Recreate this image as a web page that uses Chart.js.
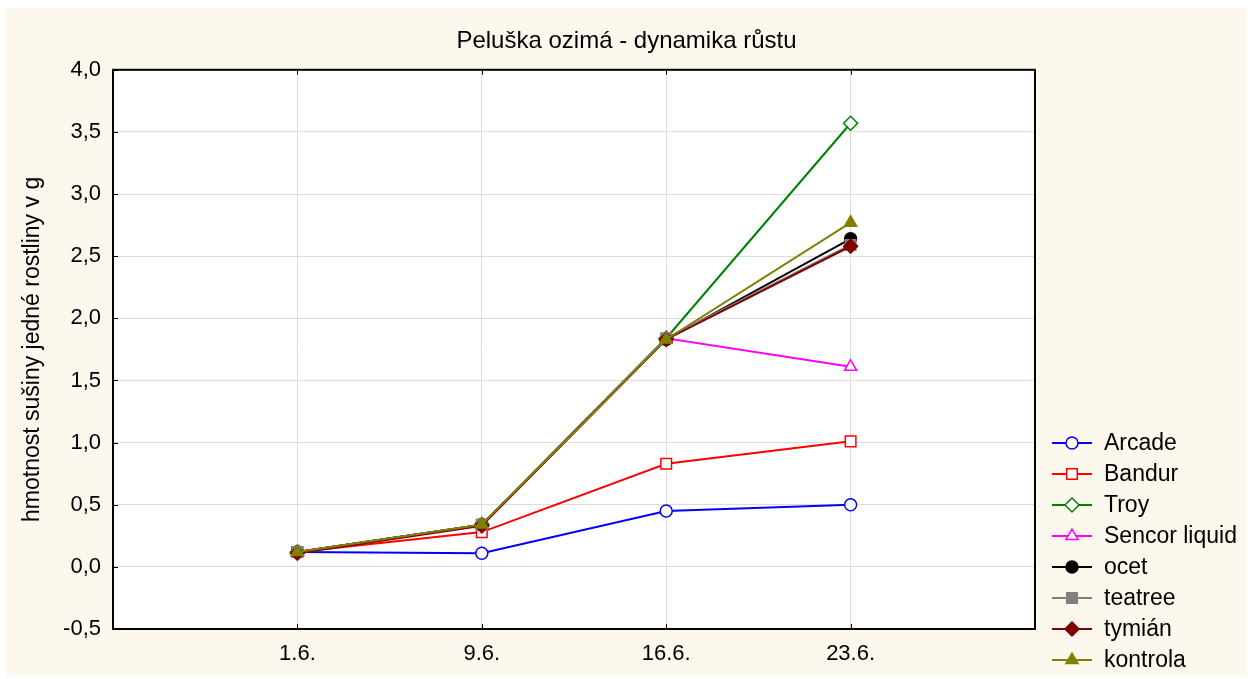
<!DOCTYPE html>
<html>
<head>
<meta charset="utf-8">
<script src="https://cdn.jsdelivr.net/npm/chart.js@4/dist/chart.umd.min.js"></script>
<style>
    html, body { margin: 0; padding: 0; background: #ffffff; }
    #wrap { width: 1253px; height: 679px; position: relative; }
</style>
</head>
<body>
<div id="wrap"><canvas id="growth-chart" width="1253" height="679"></canvas></div>
<script>
// --- DATA ---
const dates = ['1.6.', '9.6.', '16.6.', '23.6.'];
const seriesNames = ['Arcade', 'Bandur', 'Troy', 'Sencor liquid', 'ocet', 'teatree', 'tymián', 'kontrola'];
const arcade = [0.12, 0.11, 0.45, 0.50];
const bandur = [0.12, 0.28, 0.83, 1.01];
const troy = [0.12, 0.34, 1.84, 3.57];
const sencor = [0.12, 0.34, 1.84, 1.61];
const ocet = [0.12, 0.34, 1.83, 2.64];
const teatree = [0.12, 0.34, 1.84, 2.59];
const tymian = [0.11, 0.33, 1.83, 2.58];
const kontrola = [0.12, 0.34, 1.83, 2.77];
const seriesValues = [arcade, bandur, troy, sencor, ocet, teatree, tymian, kontrola];

// --- STYLE ---
const FONT = '"Liberation Sans", Arial, sans-serif';
const styles = [
    { color: '#0000ff', shape: 'circle', fill: '#ffffff', r: 6 },
    { color: '#ff0000', shape: 'rect', fill: '#ffffff', r: 7.5 },
    { color: '#008000', shape: 'rectRot', fill: '#ffffff', r: 7 },
    { color: '#ff00ff', shape: 'triangle', fill: '#ffffff', r: 7 },
    { color: '#000000', shape: 'circle', fill: '#000000', r: 6 },
    { color: '#808080', shape: 'rect', fill: '#808080', r: 7.5 },
    { color: '#800000', shape: 'rectRot', fill: '#800000', r: 7 },
    { color: '#808000', shape: 'triangle', fill: '#808000', r: 7 },
];

const datasets = seriesNames.map((name, i) => ({
    label: name,
    data: seriesValues[i].map((v, j) => ({ x: j + 1, y: v })),
    borderColor: styles[i].color,
    borderWidth: 2,
    pointStyle: styles[i].shape,
    pointRadius: styles[i].r,
    pointBorderWidth: 1.5,
    pointBorderColor: styles[i].color,
    pointBackgroundColor: styles[i].fill,
    order: seriesNames.length - i, // last series drawn on top
    tension: 0,
}));

// --- PLUGINS ---
const backdrop = {
    id: 'backdrop',
    beforeDraw(chart) {
        const { ctx, chartArea: a } = chart;
        ctx.save();
        ctx.fillStyle = '#fdf8ee';
        ctx.fillRect(6, 8, 1241, 669);
        ctx.fillStyle = '#ffffff';
        ctx.fillRect(a.left, a.top, a.right - a.left, a.bottom - a.top);
        ctx.restore();
    }
};

const frame = {
    id: 'frame',
    afterDatasetsDraw(chart) {
        const { ctx, chartArea: a, scales } = chart;
        ctx.save();
        ctx.strokeStyle = '#000000';
        ctx.lineWidth = 1;
        // small inward ticks
        ctx.beginPath();
        scales.y.ticks.forEach(t => {
            const y = Math.round(scales.y.getPixelForValue(t.value)) + 0.5;
            ctx.moveTo(a.left, y); ctx.lineTo(a.left + 5, y);
        });
        dates.forEach((d, j) => {
            const x = Math.round(scales.x.getPixelForValue(j + 1)) + 0.5;
            ctx.moveTo(x, a.bottom); ctx.lineTo(x, a.bottom - 5);
            ctx.moveTo(x, a.top); ctx.lineTo(x, a.top + 5);
        });
        ctx.stroke();
        ctx.lineWidth = 2;
        ctx.strokeRect(a.left, a.top, a.right - a.left, a.bottom - a.top);
        ctx.restore();
    }
};

const sideLegend = {
    id: 'sideLegend',
    afterDraw(chart) {
        const { ctx } = chart;
        ctx.save();
        ctx.font = '23px ' + FONT;
        ctx.textBaseline = 'middle';
        ctx.textAlign = 'left';
        seriesNames.forEach((name, i) => {
            const y = 443 + i * 31;
            const s = styles[i];
            ctx.strokeStyle = s.color;
            ctx.lineWidth = 2;
            ctx.beginPath();
            ctx.moveTo(1052, y); ctx.lineTo(1092, y);
            ctx.stroke();
            ctx.fillStyle = s.fill;
            ctx.lineWidth = 1.5;
            Chart.helpers.drawPoint(ctx, { pointStyle: s.shape, radius: s.r, rotation: 0, borderWidth: 1.5 }, 1072, y);
            ctx.fillStyle = '#000000';
            ctx.fillText(name, 1104, y + 1);
        });
        ctx.restore();
    }
};

// --- CHART ---
new Chart(document.getElementById('growth-chart'), {
    type: 'line',
    data: { datasets },
    options: {
        responsive: false,
        animation: false,
        layout: { padding: 0 },
        plugins: {
            legend: { display: false },
            tooltip: { enabled: false },
            title: {
                display: true,
                text: 'Peluška ozimá - dynamika růstu',
                color: '#000000',
                font: { family: FONT, size: 24, weight: 'normal' },
                padding: { top: 27, bottom: 14 },
            },
        },
        scales: {
            x: {
                type: 'linear',
                min: 0,
                max: 5,
                afterFit: s => { s.height = 50; },
                afterBuildTicks: s => {
                    s.ticks = [0, 1, 2, 3, 4, 5].map(v => ({ value: v }));
                },
                ticks: {
                    color: '#000000',
                    font: { family: FONT, size: 22 },
                    padding: 12,
                    maxRotation: 0,
                    autoSkip: false,
                    callback: v => dates[v - 1] || '',
                },
                grid: { color: '#dcdcdc', lineWidth: 1, drawTicks: false },
                border: { display: false },
            },
            y: {
                min: -0.5,
                max: 4,
                afterFit: s => { s.width = 113; },
                ticks: {
                    stepSize: 0.5,
                    color: '#000000',
                    font: { family: FONT, size: 22 },
                    padding: 12,
                    callback: v => v.toFixed(1).replace('.', ','),
                },
                grid: { color: '#dcdcdc', lineWidth: 1, drawTicks: false },
                border: { display: false },
                title: {
                    display: true,
                    text: 'hmotnost sušiny jedné rostliny v g',
                    color: '#000000',
                    font: { family: FONT, size: 23 },
                    padding: { top: 19, bottom: 0 },
                },
            },
            // empty right-hand strip that holds the legend
            legendSpace: {
                type: 'linear',
                position: 'right',
                afterFit: s => { s.width = 218; },
                ticks: { display: false },
                grid: { display: false, drawOnChartArea: false },
                border: { display: false },
            },
        },
    },
    plugins: [backdrop, frame, sideLegend],
});
</script>
</body>
</html>
